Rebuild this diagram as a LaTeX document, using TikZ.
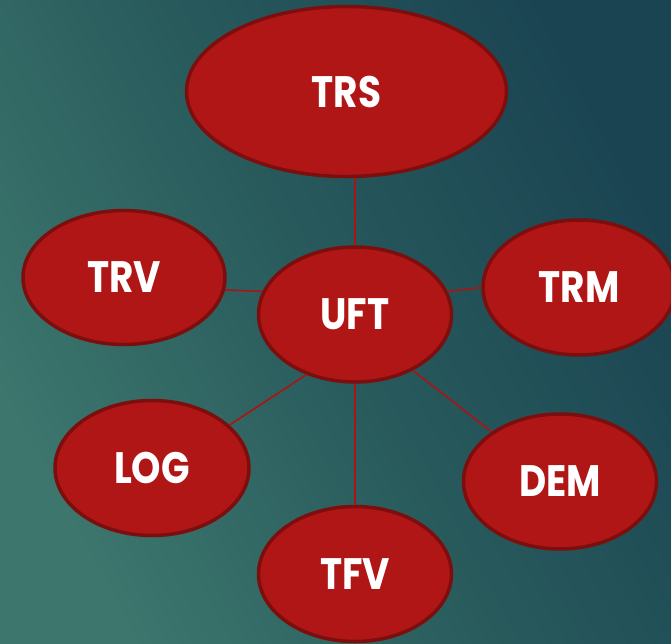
\documentclass[tikz,border=0pt]{standalone}
\usepackage{fontspec}
\newfontfamily\lblfont{Poppins}[UprightFont=* Bold, BoldFont=* Bold, FakeStretch=0.85]
\usetikzlibrary{shapes.geometric}
\definecolor{bgdark}{RGB}{26,68,82}
\definecolor{bgmid}{RGB}{40,90,92}
\definecolor{bglight}{RGB}{60,118,109}
\definecolor{nodefill}{RGB}{176,22,22}
\definecolor{nodeedge}{RGB}{125,14,14}
\definecolor{linkred}{RGB}{170,20,20}
\tikzset{
  bubble/.style={ellipse, draw=nodeedge, line width=3.5pt, fill=nodefill,
    inner sep=0pt, text=white, font=\lblfont\fontsize{44}{44}\selectfont,
    minimum width=193pt, minimum height=135pt},
  link/.style={draw=linkred, line width=1.6pt}
}
\begin{document}
\begin{tikzpicture}[x=1pt,y=-1pt]
\useasboundingbox (0,0) rectangle (671,643);
\shade[bottom color=bglight, top color=bgdark, middle color=bgmid, shading angle=-62] (0,0) rectangle (671,643);
\node[bubble, minimum width=320pt, minimum height=170pt] (trs) at (346.5,91.5) {TRS};
\node[bubble, minimum width=202pt, minimum height=134pt] (trv) at (124,277.5) {TRV};
\node[bubble] (uft) at (355,314.5) {UFT};
\node[bubble, minimum width=192pt] (trm) at (579,287.5) {TRM};
\node[bubble, minimum width=194pt] (log) at (152,468) {LOG};
\node[bubble] (dem) at (560,481.5) {DEM};
\node[bubble] (tfv) at (355,574) {TFV};
\draw[link] (uft.north) -- (uft.north |- trs.south);
\draw[link] (uft.south) -- (tfv.north);
\draw[link] (trv.-7.3) -- (uft.166.3);
\draw[link] (uft.14.9) -- (trm.west);
\draw[link] (uft.231.8) -- (log.29.6);
\draw[link] (uft.-44.3) -- (dem.144.2);
\end{tikzpicture}
\end{document}
